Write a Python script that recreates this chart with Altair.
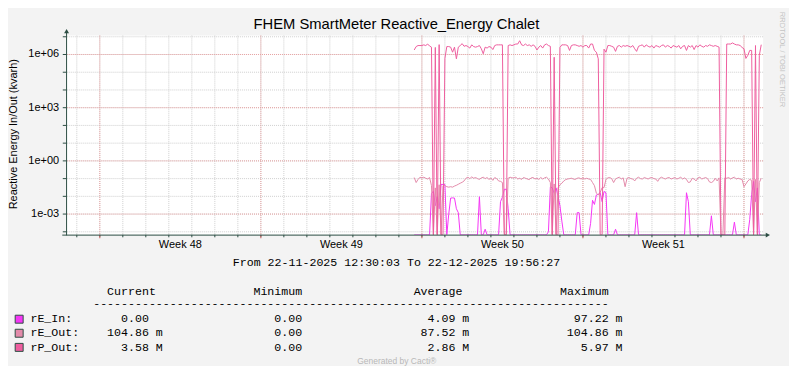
import altair as alt
import pandas as pd

# ---------------- time frame ----------------
GRAPH_START = "2025-11-22 12:30:03"
GRAPH_END = "2025-12-22 19:56:27"
FIRST_SAMPLE = "2025-12-07 16:00:00"
SAMPLE_STEP = "2h"

# ---------------- series values (2-hourly samples) ----------------
# rP_Out in M (1e6)
rp_out_M = [
    1.8, 2.8, 3.2, 3.2,                                                  # Dec 7 16-22h
    3.2, 3.5, 3.2, 3.9, 3.0, 2.6, 0, 2.5, 0, 3.6, 0, 0,                   # Dec 8
    0.6, 2.8, 2.8, 2.6, 1.35, 2.6, 0.57, 2.6, 3.2, 4.1, 2.9, 3.2,         # Dec 9
    2.8, 2.3, 3.5, 2.8, 2.6, 2.8, 3.2, 2.1, 1.1, 2.6, 2.3, 2.8,           # Dec 10
    2.6, 1.9, 3.2, 3.5, 3.5, 3.5, 3.5, 0, 0, 3.2, 3.5, 3.2,               # Dec 11
    3.5, 3.9, 3.9, 5.97, 3.5, 3.2, 3.9, 3.2, 3.5, 2.9, 3.5, 2.9,          # Dec 12
    1.8, 2.6, 3.2, 2.3, 3.5, 3.9, 3.2, 2.9, 0, 0.7, 0, 0,                 # Dec 13
    2.5, 3.5, 3.5, 3.5, 3.2, 1.7, 3.2, 3.5, 3.5, 3.2, 2.9, 3.2,           # Dec 14
    2.6, 3.2, 3.2, 2.3, 3.9, 3.9, 1.7, 1.35, 0.57, 0, 0, 2.0,             # Dec 15
    1.35, 3.2, 3.2, 2.9, 2.6, 1.5, 2.9, 3.2, 2.6, 3.2, 2.9, 3.2,          # Dec 16
    2.9, 2.6, 3.2, 2.1, 1.5, 2.9, 3.2, 3.5, 2.6, 3.5, 2.9, 2.6,           # Dec 17
    3.2, 2.3, 3.2, 2.9, 2.6, 3.2, 3.5, 2.6, 3.2, 2.9, 2.3, 3.2,           # Dec 18
    2.9, 2.6, 3.2, 2.1, 2.9, 3.2, 1.7, 3.2, 2.6, 3.2, 1.9, 3.2,           # Dec 19
    2.6, 3.5, 2.9, 2.6, 3.2, 2.9, 3.5, 3.2, 2.9, 3.2, 2.9, 2.6,           # Dec 20
    0, 0, 0, 3.9, 3.9, 3.9, 4.5, 3.9, 3.5, 3.5, 3.2, 2.5,                 # Dec 21
    2.1, 0.6, 0.9, 1.7, 1.7, 0, 3.2, 0, 0.9, 3.58,                        # Dec 22 0-18h
]

# rE_Out in m (1e-3)
re_out_m = [
    115, 60, 90, 120,
    110, 120, 105, 95, 115, 40, 0, 30, 0, 45, 0, 40,
    40, 35, 33, 35, 33, 38, 42, 48, 55, 62, 74, 105,
    120, 100, 125, 105, 115, 100, 90, 110, 120, 100, 115, 90,
    108, 80, 115, 100, 74, 70, 60, 0, 0, 105, 120, 110,
    110, 120, 95, 105, 90, 115, 105, 95, 88, 110, 115, 95,
    105, 90, 115, 95, 110, 120, 95, 60, 0, 50, 0, 30,
    45, 55, 74, 88, 95, 100, 105, 95, 90, 105, 110, 95,
    110, 95, 105, 95, 90, 60, 40, 15, 12, 17, 31, 31,
    90, 110, 115, 100, 60, 95, 110, 120, 95, 110, 35, 105,
    115, 100, 95, 74, 105, 120, 100, 95, 115, 105, 95, 110,
    115, 100, 95, 70, 105, 120, 105, 95, 110, 115, 95, 105,
    115, 95, 105, 120, 95, 110, 90, 60, 65, 105, 95, 74,
    110, 120, 95, 105, 115, 100, 65, 60, 70, 105, 74, 110,
    0, 0, 110, 105, 115, 95, 110, 120, 95, 105, 95, 90,
    35, 50, 74, 90, 80, 0, 90, 0, 60, 104.86,
]

# rE_In in m (1e-3)
re_in_m = [
    0, 0, 0, 0,
    0, 0, 0, 0, 0, 15, 19, 3, 9.5, 2, 47, 47,
    47, 0, 1, 8, 8.2, 8, 2, 1.2, 0, 0, 0, 0,
    0, 0, 0, 0, 0, 0, 9.5, 0, 0, 0.14, 0, 0,
    0, 0, 0, 0, 0, 5, 9, 25, 25, 2, 0, 0,
    0, 0, 0, 0, 0, 0, 0, 0, 0, 0, 0, 0,
    0, 0, 0, 0, 0, 0, 0.1, 34, 30, 15, 30, 10,
    3, 0.4, 0, 0, 0, 0, 0, 0, 0, 1.2, 1.2, 0,
    0, 0, 0, 0, 0.3, 6, 3.5, 12, 13, 16, 5, 19,
    16, 0, 0, 0, 0, 0.14, 0, 0, 0, 0, 0, 0,
    0, 0, 0, 0, 1.2, 0, 0, 0, 0, 0, 0, 0,
    0, 0, 0, 0, 0, 0, 0, 0, 0, 0, 0, 0,
    0, 0, 0, 0, 0, 0, 16, 5, 0, 0, 0, 0,
    0, 0, 0, 0, 0, 0, 0, 0.8, 0, 0, 0, 0,
    0, 0, 0, 0, 0, 0, 0, 0.35, 0, 0, 0, 0,
    0, 0, 0, 0.5, 13, 69, 5, 30, 0, 0,
]

series_names = ["rE_In", "rE_Out", "rP_Out"]
series_colors = ["#F536F5", "#E38BAA", "#EE5E9F"]

# ---------------- axis values / labels ----------------
grid_decades = [1e-4, 1e-3, 1e-2, 1e-1, 1e0, 1e1, 1e2, 1e3, 1e4, 1e5, 1e6, 1e7]
label_decades = [1e-3, 1e0, 1e3, 1e6]
label_texts = ["1e-03", "1e+00", "1e+03", "1e+06"]
week_labels = ["Week 48", "Week 49", "Week 50", "Week 51"]
y_log_range = [-4.17, 7.067]

title_text = "FHEM SmartMeter Reactive_Energy Chalet"
y_title_text = "Reactive Energy In/Out (kvarh)"
period_text = "From 22-11-2025 12:30:03 To 22-12-2025 19:56:27"
side_text = "RRDTOOL / TOBI OETIKER"
footer_text = "Generated by Cacti\u00ae"

legend_header = ["Current", "Minimum", "Average", "Maximum"]
legend_rows = [
    ["rE_In:", "0.00", " ", "0.00", " ", "4.09", "m", "97.22", "m"],
    ["rE_Out:", "104.86", "m", "0.00", " ", "87.52", "m", "104.86", "m"],
    ["rP_Out:", "3.58", "M", "0.00", " ", "2.86", "M", "5.97", "M"],
]

# ---------------- build tables ----------------
t0 = pd.Timestamp(GRAPH_START)
t1 = pd.Timestamp(GRAPH_END)
HOUR = pd.Timedelta(hours=1)
total_h = (t1 - t0) / HOUR


def hours(idx):
    return [float((t - t0) / HOUR) for t in idx]


sample_times = pd.date_range(FIRST_SAMPLE, periods=len(rp_out_M), freq=SAMPLE_STEP)
sample_h = hours(sample_times)
FLOOR = 1e-12  # zero on a log axis -> clamped to the bottom like rrdtool


def series_df(vals, mult):
    return pd.DataFrame({"h": sample_h, "v": [v * mult if v > 0 else FLOOR for v in vals]})


df_in = series_df(re_in_m, 1e-3)
df_out = series_df(re_out_m, 1e-3)
df_p = series_df(rp_out_M, 1e6)

day_lines = pd.date_range("2025-11-23", "2025-12-22", freq="D")
mondays = pd.date_range("2025-11-24", "2025-12-22", freq="7D")
week_centres = [m + pd.Timedelta(days=3.5) for m in mondays[:-1]]

df_days = pd.DataFrame({"h": hours(day_lines)})
df_mon = pd.DataFrame({"h": hours(mondays)})
df_weeks = pd.DataFrame({"h": hours(week_centres), "label": week_labels})
df_dec = pd.DataFrame({"v": grid_decades})
df_major = pd.DataFrame({"v": label_decades, "label": label_texts})
one = pd.DataFrame({"k": [0]})

# ---------------- styles ----------------
SANS = "Liberation Sans"
MONO = "Liberation Mono"
MONO_SIZE = 11.67
CHAR_W = 7.0
AXIS = "#2C4D43"
GRID = "#CFCFCF"
MGRID = "#E9A3A3"
NB = "\u00a0"

xs = alt.Scale(domain=[0, total_h], nice=False, zero=False)
ys = alt.Scale(type="log", domain=[10 ** y_log_range[0], 10 ** y_log_range[1]], nice=False, clamp=True)


def X():
    return alt.X("h:Q", scale=xs, axis=None)


def Y():
    return alt.Y("v:Q", scale=ys, axis=None)


layers = []
# grid
layers.append(alt.Chart(df_dec).mark_rule(color=GRID, strokeDash=[1, 1], strokeWidth=1).encode(y=Y()))
layers.append(alt.Chart(df_days).mark_rule(color=GRID, strokeDash=[1, 1], strokeWidth=1).encode(x=X()))
layers.append(alt.Chart(df_major).mark_rule(color=MGRID, strokeDash=[1, 1], strokeWidth=1).encode(y=Y()))
layers.append(alt.Chart(df_mon).mark_rule(color=MGRID, strokeDash=[1, 1], strokeWidth=1).encode(x=X()))

# data lines
for df, col in zip([df_in, df_out, df_p], series_colors):
    layers.append(
        alt.Chart(df).mark_line(color=col, strokeWidth=1, strokeJoin="round", clip=True).encode(x=X(), y=Y())
    )

# ticks
layers.append(alt.Chart(df_dec).mark_rule(color=AXIS, strokeWidth=1).encode(y=Y(), x=alt.value(-3), x2=alt.value(0.5)))
layers.append(alt.Chart(df_days).mark_rule(color=AXIS, strokeWidth=1).encode(x=X(), y=alt.value(200), y2=alt.value(202.5)))
layers.append(alt.Chart(df_mon).mark_rule(color="#D46A6A", strokeWidth=1).encode(x=X(), y=alt.value(200), y2=alt.value(203.5)))

# axis lines and arrows
layers.append(alt.Chart(one).mark_rule(color=AXIS, strokeWidth=1).encode(x=alt.value(0.8), y=alt.value(-3), y2=alt.value(200.5)))
layers.append(alt.Chart(one).mark_rule(color=AXIS, strokeWidth=1).encode(x=alt.value(-3.5), x2=alt.value(703), y=alt.value(200.3)))
layers.append(alt.Chart(one).mark_point(shape="triangle-up", filled=True, color=AXIS, size=24, opacity=1).encode(x=alt.value(0.8), y=alt.value(-4.5)))
layers.append(alt.Chart(one).mark_point(shape="triangle-right", filled=True, color=AXIS, size=24, opacity=1).encode(x=alt.value(704.8), y=alt.value(200.3)))

# axis labels
layers.append(alt.Chart(df_major).mark_text(align="right", baseline="middle", font=SANS, fontSize=11, color="#000000").encode(y=Y(), x=alt.value(-6.7), text="label:N"))
layers.append(alt.Chart(df_weeks).mark_text(align="center", baseline="alphabetic", font=SANS, fontSize=11, color="#000000").encode(x=X(), y=alt.value(213), text="label:N"))


def txt(s, x, y, align="left", font=SANS, size=11, color="#000000", angle=0, baseline="alphabetic"):
    kw = dict(align=align, baseline=baseline, font=font, fontSize=size, color=color)
    if angle:
        kw["angle"] = angle
    return alt.Chart(one).mark_text(**kw).encode(x=alt.value(x), y=alt.value(y), text=alt.value(s))


layers.append(txt(title_text, 332, -6.7, align="center", size=14.8))
layers.append(txt(y_title_text, -51.5, 99, align="center", angle=270, baseline="middle"))
layers.append(txt(side_text, 718.5, 24, align="center", size=7.6, color="#C4C4C4", angle=90, baseline="middle"))
layers.append(txt(period_text, 332, 231.7, align="center", font=MONO, size=MONO_SIZE))
layers.append(txt(footer_text, 332.3, 329.5, align="center", size=8.5, color="#B8B8B8"))

# legend (monospace grid, column = character index)
LEG_X = -35.5
header = legend_header[0] + NB * 14 + legend_header[1] + NB * 16 + legend_header[2] + NB * 14 + legend_header[3]
layers.append(txt(header, LEG_X + 11 * CHAR_W, 260.5, font=MONO, size=MONO_SIZE))
layers.append(txt("-" * 74, LEG_X + 9 * CHAR_W, 272.5, font=MONO, size=MONO_SIZE))


def field(num, unit):
    return num.rjust(8) + " " + unit


row_y = [287.8, 302.0, 316.2]
sw_y = [284.7, 298.8, 313.0]
for r, yb, ysw, col in zip(legend_rows, row_y, sw_y, series_colors):
    line = r[0].ljust(9) + field(r[1], r[2]) + " " * 12 + field(r[3], r[4]) + " " * 12 + field(r[5], r[6]) + " " * 12 + field(r[7], r[8])
    layers.append(txt(line.replace(" ", NB), LEG_X, yb, font=MONO, size=MONO_SIZE))
    layers.append(
        alt.Chart(one).mark_square(size=64, filled=True, color=col, stroke=AXIS, strokeWidth=1, opacity=1).encode(
            x=alt.value(-46.8), y=alt.value(ysw)
        )
    )

chart = (
    alt.layer(*layers)
    .properties(
        width=700,
        height=200,
        autosize=alt.AutoSizeParams(type="none"),
        padding={"left": 58, "top": 27, "right": 26, "bottom": 131},
        background="#F3F3F3",
    )
    .configure_view(strokeWidth=0, fill="#FFFFFF")
)

chart.save("out.html", embed_options={"renderer": "svg", "actions": False})
